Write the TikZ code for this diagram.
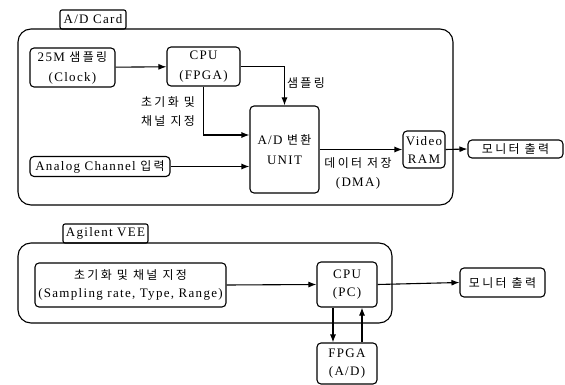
\documentclass[tikz,border=0pt]{standalone}
\usepackage{fontspec}
\setmainfont[LetterSpace=10]{Liberation Serif}
\newfontfamily\krfont[LetterSpace=20,Scale=0.92]{Noto Sans CJK KR}
\newcommand{\ko}[1]{{\krfont #1}}
\usetikzlibrary{arrows.meta}
\tikzset{
  blk/.style={draw,line width=1.1pt,rounded corners=4pt,align=center,inner sep=1pt,font=\fontsize{13}{20}\selectfont},
  grp/.style={draw,line width=1.1pt,rounded corners=13pt,inner sep=0pt},
  tabbox/.style={draw,line width=1.1pt,rounded corners=2pt,inner sep=1pt,font=\fontsize{13}{14}\selectfont},
  lbl/.style={align=center,font=\fontsize{13}{19}\selectfont},
  flow/.style={line width=1.1pt,-{Latex[length=8pt,width=6pt]}}
}
\begin{document}
\begin{tikzpicture}[x=1pt,y=-1pt]
\useasboundingbox (0,0) rectangle (565,385);
\node[grp,minimum width=435pt,minimum height=176pt] (ad_card) at (235.5,117) {};
\node[tabbox,minimum width=66pt,minimum height=19pt] (ad_tab) at (93,19.5) {A/D Card};
\node[blk,minimum width=85pt,minimum height=39pt] (ad_clk) at (72.5,67.5) {25M \ko{샘플링}\\(Clock)};
\node[blk,minimum width=73pt,minimum height=39pt] (ad_cpu) at (203.5,66.5) {CPU\\(FPGA)};
\node[blk,minimum width=69pt,minimum height=87pt] (ad_unit) at (284.5,149.5) {A/D \ko{변환}\\UNIT};
\node[blk,minimum width=140pt,minimum height=20pt] (ad_in) at (100,166.5) {Analog Channel \ko{입력}};
\node[blk,minimum width=42pt,minimum height=37pt,inner sep=0pt,font=\fontsize{13}{18}\selectfont] (ad_vram) at (424,149.5) {Video\\RAM};
\node[blk,minimum width=95pt,minimum height=18pt] (ad_mon) at (515.5,149) {\ko{모니터 출력}};
\node[lbl] (ad_smp) at (306,83) {\ko{샘플링}};
\node[lbl] (ad_init) at (168,112) {\ko{초기화 및}\\\ko{채널 지정}};
\node[lbl] (ad_dma) at (358,173) {\ko{데이터 저장}\\(DMA)};
\draw[flow] (ad_clk) -- (ad_cpu);
\draw[flow] (ad_cpu.east) -| (ad_unit.north);
\draw[flow] (ad_cpu.south) |- ([yshift=14.5pt]ad_unit.west);
\draw[flow] (ad_in.east) -- (ad_in.east -| ad_unit.west);
\draw[flow] (ad_unit.east) -- (ad_vram.west);
\draw[flow] (ad_vram.east) -- (ad_mon.west);
\node[grp,minimum width=374pt,minimum height=80pt] (vee_box) at (205,283) {};
\node[tabbox,minimum width=85pt,minimum height=19pt] (vee_tab) at (105.5,233.5) {Agilent VEE};
\node[blk,minimum width=191pt,minimum height=44pt,font=\fontsize{13}{18}\selectfont] (vee_init) at (130.5,285) {\ko{초기화 및 채널 지정}\\(Sampling rate, Type, Range)};
\node[blk,minimum width=60pt,minimum height=45pt,font=\fontsize{13}{18}\selectfont] (vee_cpu) at (347,284.5) {CPU\\(PC)};
\node[blk,minimum width=85pt,minimum height=29pt] (vee_mon) at (502.5,282.5) {\ko{모니터 출력}};
\node[blk,minimum width=60pt,minimum height=41pt,font=\fontsize{13}{18}\selectfont] (vee_fpga) at (347,363.5) {FPGA\\(A/D)};
\draw[flow] (vee_init.east) -- (vee_cpu.west);
\draw[flow] (vee_cpu.east) -- (vee_mon.west);
\draw[flow] ([xshift=-14pt]vee_cpu.south) -- ([xshift=-14pt]vee_fpga.north);
\draw[flow] ([xshift=15pt]vee_fpga.north) -- ([xshift=15pt]vee_cpu.south);
\end{tikzpicture}
\end{document}
